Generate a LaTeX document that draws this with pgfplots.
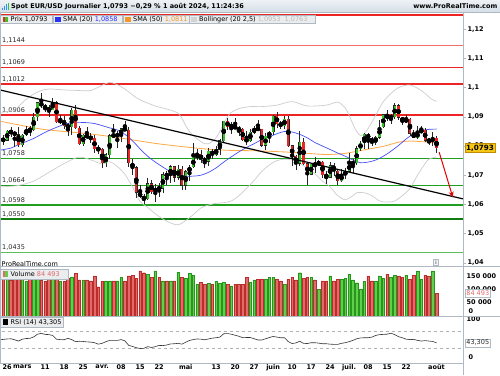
\documentclass[border=0pt]{standalone}
\usepackage{fontspec}
\setmainfont{DejaVu Sans}
\usepackage{pgfplots}
\pgfplotsset{compat=1.18}
\usepackage{pgfplotstable}
\usetikzlibrary{arrows.meta}

\definecolor{cgreen}{RGB}{56,192,40}
\definecolor{cred}{RGB}{232,38,38}
\definecolor{vgreen}{RGB}{96,208,74}
\definecolor{vred}{RGB}{228,106,106}
\definecolor{vgreend}{RGB}{40,150,30}
\definecolor{vredd}{RGB}{185,45,45}
\definecolor{sma20}{RGB}{70,80,250}
\definecolor{sma20t}{RGB}{40,50,245}
\definecolor{sma50}{RGB}{255,168,70}
\definecolor{sma50t}{RGB}{245,150,40}
\definecolor{boll}{RGB}{205,205,205}
\definecolor{resred}{RGB}{236,36,36}
\definecolor{respink}{RGB}{242,110,110}
\definecolor{supgreen}{RGB}{30,160,30}
\definecolor{supdark}{RGB}{15,125,15}
\definecolor{suplight}{RGB}{90,190,90}
\definecolor{hdrtop}{RGB}{238,242,246}
\definecolor{hdrbot}{RGB}{212,221,230}
\definecolor{legbg}{RGB}{234,236,238}
\definecolor{legline}{RGB}{175,185,195}
\definecolor{frame}{RGB}{175,185,195}
\definecolor{pricebox}{RGB}{246,198,20}
\definecolor{labtxt}{RGB}{40,40,40}

\newcommand\fs{\fontsize{6.5}{7.5}\selectfont}

% i  O  H  L  C  D(1=up, 0=down)  V(thousands)
\pgfplotstableread{
i O H L C D V
0 1.0823 1.0838 1.0804 1.0820 0 138
1 1.0820 1.0856 1.0817 1.0851 1 145
2 1.0851 1.0865 1.0830 1.0845 0 132
3 1.0845 1.0853 1.0797 1.0839 0 140
4 1.0839 1.0866 1.0796 1.0804 0 155
5 1.0804 1.0840 1.0797 1.0838 1 136
6 1.0838 1.0867 1.0833 1.0856 1 128
7 1.0856 1.0870 1.0833 1.0855 0 140
8 1.0855 1.0912 1.0851 1.0899 1 150
9 1.0899 1.0951 1.0885 1.0948 1 158
10 1.0948 1.0981 1.0930 1.0938 0 134
11 1.0938 1.0943 1.0916 1.0927 0 130
12 1.0927 1.0942 1.0900 1.0925 0 138
13 1.0925 1.0963 1.0924 1.0949 1 145
14 1.0949 1.0954 1.0880 1.0883 0 150
15 1.0883 1.0905 1.0874 1.0888 1 128
16 1.0888 1.0902 1.0860 1.0870 0 128
17 1.0870 1.0878 1.0836 1.0865 0 140
18 1.0865 1.0929 1.0838 1.0923 1 146
19 1.0923 1.0942 1.0857 1.0862 0 159
20 1.0862 1.0868 1.0802 1.0808 0 134
21 1.0808 1.0842 1.0800 1.0838 1 134
22 1.0838 1.0865 1.0824 1.0830 0 134
23 1.0830 1.0843 1.0811 1.0826 0 131
24 1.0826 1.0837 1.0777 1.0790 0 149
25 1.0790 1.0803 1.0774 1.0790 0 109
26 1.0790 1.0793 1.0724 1.0742 0 128
27 1.0742 1.0775 1.0728 1.0770 1 131
28 1.0770 1.0840 1.0755 1.0836 1 131
29 1.0836 1.0876 1.0829 1.0836 0 131
30 1.0836 1.0850 1.0792 1.0837 1 131
31 1.0837 1.0862 1.0814 1.0860 1 143
32 1.0860 1.0885 1.0850 1.0855 0 131
33 1.0855 1.0865 1.0728 1.0742 0 149
34 1.0742 1.0756 1.0700 1.0726 0 152
35 1.0726 1.0732 1.0622 1.0642 0 140
36 1.0642 1.0668 1.0623 1.0625 0 168
37 1.0625 1.0637 1.0601 1.0619 0 161
38 1.0619 1.0690 1.0617 1.0671 1 156
39 1.0671 1.0682 1.0637 1.0644 0 143
40 1.0644 1.0670 1.0609 1.0655 1 168
41 1.0655 1.0672 1.0624 1.0655 0 143
42 1.0655 1.0710 1.0640 1.0702 1 131
43 1.0702 1.0714 1.0666 1.0698 0 131
44 1.0698 1.0734 1.0675 1.0729 1 131
45 1.0729 1.0730 1.0677 1.0693 0 131
46 1.0693 1.0734 1.0684 1.0720 1 162
47 1.0720 1.0731 1.0650 1.0665 0 143
48 1.0665 1.0718 1.0650 1.0712 1 140
49 1.0712 1.0735 1.0680 1.0728 1 159
50 1.0728 1.0812 1.0725 1.0761 1 152
51 1.0761 1.0790 1.0751 1.0771 1 119
52 1.0771 1.0785 1.0741 1.0754 0 125
53 1.0754 1.0764 1.0725 1.0748 0 119
54 1.0748 1.0792 1.0730 1.0783 1 122
55 1.0783 1.0790 1.0757 1.0770 0 119
56 1.0770 1.0800 1.0765 1.0789 1 128
57 1.0789 1.0825 1.0768 1.0818 1 122
58 1.0818 1.0887 1.0810 1.0885 1 125
59 1.0885 1.0895 1.0856 1.0866 0 119
60 1.0866 1.0881 1.0841 1.0871 1 112
61 1.0871 1.0895 1.0857 1.0858 0 119
62 1.0858 1.0868 1.0836 1.0857 0 119
63 1.0857 1.0860 1.0817 1.0822 0 119
64 1.0822 1.0852 1.0805 1.0818 0 143
65 1.0818 1.0859 1.0813 1.0847 1 125
66 1.0847 1.0870 1.0840 1.0859 1 134
67 1.0859 1.0889 1.0851 1.0858 0 136
68 1.0858 1.0860 1.0797 1.0802 0 136
69 1.0802 1.0846 1.0788 1.0833 1 136
70 1.0833 1.0852 1.0812 1.0848 1 143
71 1.0848 1.0907 1.0838 1.0903 1 143
72 1.0903 1.0916 1.0863 1.0877 0 136
73 1.0877 1.0887 1.0860 1.0870 0 131
74 1.0870 1.0902 1.0860 1.0891 1 119
75 1.0891 1.0902 1.0797 1.0801 0 136
76 1.0801 1.0802 1.0733 1.0765 0 143
77 1.0765 1.0768 1.0718 1.0741 0 134
78 1.0741 1.0852 1.0733 1.0814 1 161
79 1.0814 1.0826 1.0735 1.0740 0 140
80 1.0740 1.0745 1.0668 1.0703 0 143
81 1.0703 1.0742 1.0700 1.0737 1 143
82 1.0737 1.0761 1.0708 1.0736 0 134
83 1.0736 1.0751 1.0730 1.0746 1 99
84 1.0746 1.0750 1.0690 1.0702 0 131
85 1.0702 1.0716 1.0671 1.0693 0 131
86 1.0693 1.0745 1.0690 1.0733 1 149
87 1.0733 1.0741 1.0697 1.0715 0 131
88 1.0715 1.0722 1.0666 1.0681 0 136
89 1.0681 1.0721 1.0677 1.0701 1 136
90 1.0701 1.0724 1.0688 1.0713 1 140
91 1.0713 1.0776 1.0710 1.0740 1 156
92 1.0740 1.0754 1.0709 1.0742 1 134
93 1.0742 1.0799 1.0734 1.0791 1 124
94 1.0791 1.0816 1.0783 1.0810 1 99
95 1.0810 1.0845 1.0791 1.0840 1 128
96 1.0840 1.0846 1.0791 1.0826 0 149
97 1.0826 1.0830 1.0799 1.0813 0 131
98 1.0813 1.0835 1.0805 1.0830 1 128
99 1.0830 1.0890 1.0825 1.0865 1 149
100 1.0865 1.0910 1.0862 1.0907 1 140
101 1.0907 1.0922 1.0885 1.0895 0 156
102 1.0895 1.0911 1.0875 1.0901 1 143
103 1.0901 1.0948 1.0893 1.0938 1 152
104 1.0938 1.0945 1.0890 1.0898 0 149
105 1.0898 1.0900 1.0873 1.0883 0 143
106 1.0883 1.0905 1.0880 1.0892 1 152
107 1.0892 1.0895 1.0833 1.0844 0 136
108 1.0844 1.0855 1.0826 1.0827 0 152
109 1.0827 1.0868 1.0825 1.0847 1 165
110 1.0847 1.0870 1.0843 1.0855 1 136
111 1.0855 1.0860 1.0813 1.0820 0 152
112 1.0820 1.0828 1.0803 1.0817 0 149
113 1.0817 1.0848 1.0800 1.0826 1 168
114 1.0826 1.0834 1.0777 1.0793 0 84.493
}\data

\begin{document}
\begin{tikzpicture}
\path[use as bounding box] (0pt,0pt) rectangle (500pt,-375pt);
\fill[white] (0pt,0pt) rectangle (500pt,-375pt);

%================ MAIN PRICE PANEL =================
\begin{axis}[
  at={(0pt,-265pt)}, anchor=south west, scale only axis,
  width=463pt, height=255pt,
  xmin=-0.87, xmax=120.97, ymin=1.039267, ymax=1.126566,
  axis line style={draw=none},
  xtick=\empty,
  ytick={1.04,1.05,1.06,1.07,1.08,1.09,1.10,1.11,1.12},
  yticklabels={{1,04},{1,05},{1,06},{1,07},{1,08},{1,09},{1,1},{1,11},{1,12}},
  ytick pos=right, yticklabel pos=right,
  tick align=outside, major tick length=3pt,
  major tick style={draw=frame, line width=0.5pt},
  yticklabel style={font=\fs\bfseries, inner sep=1.5pt},
]
% level lines
\draw[color=resred, line width=1.4pt] (axis cs:-2,1.1248) -- (axis cs:122,1.1248);
\draw[color=respink, line width=1.8pt] (axis cs:-2,1.1144) -- (axis cs:122,1.1144);
\draw[color=resred, line width=1.4pt] (axis cs:-2,1.1069) -- (axis cs:122,1.1069);
\draw[color=resred, line width=1.4pt] (axis cs:-2,1.1012) -- (axis cs:122,1.1012);
\draw[color=resred, line width=1.4pt] (axis cs:-2,1.0906) -- (axis cs:122,1.0906);
\draw[color=supgreen, line width=1.4pt] (axis cs:-2,1.0758) -- (axis cs:122,1.0758);
\draw[color=supgreen, line width=1.4pt] (axis cs:-2,1.0664) -- (axis cs:122,1.0664);
\draw[color=supgreen, line width=1.4pt] (axis cs:-2,1.0598) -- (axis cs:122,1.0598);
\draw[color=supdark, line width=2pt] (axis cs:-2,1.0550) -- (axis cs:122,1.0550);
\draw[color=suplight, line width=1.4pt] (axis cs:-2,1.0435) -- (axis cs:122,1.0435);
\node[anchor=south west, font=\fs, text=labtxt, inner sep=0.5pt, xshift=1.5pt, yshift=1.4pt] at (axis cs:-0.87,1.1144) {1,1144};
\node[anchor=south west, font=\fs, text=labtxt, inner sep=0.5pt, xshift=1.5pt, yshift=1.4pt] at (axis cs:-0.87,1.1069) {1,1069};
\node[anchor=south west, font=\fs, text=labtxt, inner sep=0.5pt, xshift=1.5pt, yshift=1.4pt] at (axis cs:-0.87,1.1012) {1,1012};
\node[anchor=south west, font=\fs, text=labtxt, inner sep=0.5pt, xshift=1.5pt, yshift=1.4pt] at (axis cs:-0.87,1.0906) {1,0906};
\node[anchor=south west, font=\fs, text=labtxt, inner sep=0.5pt, xshift=1.5pt, yshift=1.4pt] at (axis cs:-0.87,1.0758) {1,0758};
\node[anchor=south west, font=\fs, text=labtxt, inner sep=0.5pt, xshift=1.5pt, yshift=1.4pt] at (axis cs:-0.87,1.0664) {1,0664};
\node[anchor=south west, font=\fs, text=labtxt, inner sep=0.5pt, xshift=1.5pt, yshift=1.4pt] at (axis cs:-0.87,1.0598) {1,0598};
\node[anchor=south west, font=\fs, text=labtxt, inner sep=0.5pt, xshift=1.5pt, yshift=1.4pt] at (axis cs:-0.87,1.0550) {1,0550};
\node[anchor=south west, font=\fs, text=labtxt, inner sep=0.5pt, xshift=1.5pt, yshift=1.4pt] at (axis cs:-0.87,1.0435) {1,0435};
% Bollinger upper
\addplot[draw=boll, line width=0.7pt, smooth] coordinates {
(-0.87,1.0915)(3,1.0925)(6,1.0960)(9,1.0985)(12,1.0995)(16,1.0992)(20,1.0990)(23,1.0990)(26,1.1008)(28,1.1018)(30,1.1010)(32,1.0995)(34,1.0975)(36,1.0958)(40,1.0937)(44,1.0923)(46,1.0912)(47,1.0895)(48,1.0870)(49,1.0850)(50,1.0835)(51,1.0825)(52,1.0815)(53,1.0808)(54,1.0808)(55,1.0815)(56,1.0828)(57,1.0850)(58,1.0878)(59,1.0900)(60,1.0915)(62,1.0928)(65,1.0935)(68,1.0935)(72,1.0940)(76,1.0952)(80,1.0937)(85,1.0940)(88,1.0950)(90,1.0930)(91,1.0905)(92,1.0875)(93,1.0850)(94,1.0836)(95,1.0842)(96,1.0860)(97,1.0882)(98,1.0905)(99,1.0930)(100,1.0952)(102,1.0980)(104,1.1000)(107,1.1009)(110,1.0990)(112,1.0968)(113,1.0958)(114,1.0953)};
% Bollinger lower
\addplot[draw=boll, line width=0.7pt, smooth] coordinates {
(-0.87,1.0660)(4,1.0665)(8,1.0680)(12,1.0710)(16,1.0740)(20,1.0762)(24,1.0748)(26,1.0738)(28,1.0746)(30,1.0730)(32,1.0703)(34,1.0660)(36,1.0610)(38,1.0590)(40,1.0568)(42,1.0550)(44,1.0537)(46,1.0530)(48,1.0545)(50,1.0565)(52,1.0588)(54,1.0598)(56,1.0604)(58,1.0606)(60,1.0612)(62,1.0630)(64,1.0655)(66,1.0682)(68,1.0713)(70,1.0735)(72,1.0750)(74,1.0755)(76,1.0752)(78,1.0740)(80,1.0725)(82,1.0705)(84,1.0680)(86,1.0660)(88,1.0630)(90,1.0616)(92,1.0630)(93,1.0640)(95,1.0640)(97,1.0630)(99,1.0612)(101,1.0608)(103,1.0612)(105,1.0630)(107,1.0655)(109,1.0700)(111,1.0740)(112,1.0755)(114,1.0763)};
% SMA 50
\addplot[draw=sma50, line width=0.8pt, smooth] coordinates {
(-0.87,1.0885)(5,1.0870)(10,1.0858)(15,1.0851)(20,1.0845)(25,1.0838)(30,1.0829)(35,1.0819)(40,1.0809)(45,1.0801)(50,1.0794)(55,1.0788)(60,1.0785)(65,1.0784)(70,1.0782)(75,1.0779)(80,1.0775)(85,1.0771)(90,1.0775)(95,1.0787)(100,1.0799)(104,1.0813)(107,1.0817)(110,1.0815)(114,1.0811)};
% SMA 20
\addplot[draw=sma20, line width=0.7pt, smooth] coordinates {
(-0.87,1.0786)(2,1.0793)(4,1.0805)(6,1.0815)(8,1.0826)(10,1.0840)(12,1.0853)(14,1.0864)(16,1.0874)(18,1.0880)(20,1.0881)(22,1.0880)(24,1.0877)(26,1.0870)(28,1.0862)(30,1.0855)(32,1.0840)(34,1.0818)(36,1.0790)(38,1.0765)(40,1.0745)(42,1.0728)(44,1.0712)(46,1.0702)(48,1.0697)(50,1.0697)(52,1.0700)(54,1.0710)(56,1.0725)(58,1.0745)(60,1.0763)(62,1.0780)(64,1.0795)(66,1.0808)(68,1.0822)(70,1.0832)(72,1.0842)(74,1.0850)(76,1.0848)(78,1.0840)(80,1.0828)(82,1.0812)(84,1.0800)(86,1.0788)(88,1.0776)(90,1.0765)(92,1.0752)(94,1.0743)(96,1.0745)(98,1.0752)(100,1.0765)(102,1.0782)(104,1.0802)(106,1.0824)(108,1.0842)(110,1.0852)(112,1.0857)(114,1.0858)};
% candles: wicks
\addplot[only marks, mark=none, error bars/.cd, y dir=both, y explicit, error mark=none,
  error bar style={line width=0.6pt, black!85}]
  table[x=i, y expr={(\thisrow{H}+\thisrow{L})/2}, y error expr={(\thisrow{H}-\thisrow{L})/2}] {\data};
% bodies outline
\addplot[only marks, mark=none, error bars/.cd, y dir=both, y explicit, error mark=none,
  error bar style={line width=3pt, black!85}]
  table[x=i, y expr={(\thisrow{O}+\thisrow{C})/2}, y error expr={abs(\thisrow{C}-\thisrow{O})/2+0.00011}] {\data};
% green bodies (zero length for down candles)
\addplot[only marks, mark=none, error bars/.cd, y dir=both, y explicit, error mark=none,
  error bar style={line width=2.3pt, cgreen}]
  table[x=i, y expr={(\thisrow{O}+\thisrow{C})/2}, y error expr={\thisrow{D}*abs(\thisrow{C}-\thisrow{O})/2}] {\data};
% red bodies (zero length for up candles)
\addplot[only marks, mark=none, error bars/.cd, y dir=both, y explicit, error mark=none,
  error bar style={line width=2.3pt, cred}]
  table[x=i, y expr={(\thisrow{O}+\thisrow{C})/2}, y error expr={(1-\thisrow{D})*abs(\thisrow{C}-\thisrow{O})/2}] {\data};
% trend line
\addplot[draw=black, line width=1.2pt] coordinates {(-0.87,1.0992)(120.97,1.0619)};
% arrow
\addplot[draw=red!90!black, line width=1pt, -{Stealth[length=6pt,width=5pt]}] coordinates {(114.7,1.0779)(118.3,1.0624)};
\end{axis}

%================ VOLUME PANEL =================
\begin{axis}[
  at={(0pt,-316pt)}, anchor=south west, scale only axis,
  width=463pt, height=49.5pt,
  xmin=-0.87, xmax=120.97, ymin=0, ymax=184.2,
  axis line style={draw=none},
  xtick=\empty,
  ytick={50,100,150}, yticklabels={50 000,100 000,150 000},
  ytick pos=right, yticklabel pos=right, major tick length=0pt,
  yticklabel style={font=\fs\bfseries, inner sep=1.5pt, xshift=2pt},
]
\addplot[ybar, bar width=2.7pt, bar shift=0pt, fill=vgreen, draw=vgreend, line width=0.35pt] table[x=i, y expr={\thisrow{V}*\thisrow{D}}] {\data};
\addplot[ybar, bar width=2.7pt, bar shift=0pt, fill=vred, draw=vredd, line width=0.35pt] table[x=i, y expr={\thisrow{V}*(1-\thisrow{D})}] {\data};
\end{axis}

%================ RSI PANEL =================
\begin{axis}[
  at={(0pt,-363pt)}, anchor=south west, scale only axis,
  width=463pt, height=47pt,
  xmin=-0.87, xmax=120.97, ymin=-5.42, ymax=107.83,
  axis line style={draw=none},
  ytick={100}, yticklabels={100},
  ytick pos=right, yticklabel pos=right, major tick length=0pt,
  yticklabel style={font=\fs\bfseries, inner sep=1.5pt, xshift=2pt},
  xtick={1,5,11,16,21,26,31,36,41,48,56,61,66,71,76,81,86,91,96,101,106,114},
  xticklabels={26,mars,11,18,25,avr.,08,15,22,mai,13,20,27,juin,10,17,24,juil.,08,15,22,août},
  xtick pos=bottom, xticklabel pos=bottom,
  xticklabel style={font=\fs\bfseries, inner sep=1pt, yshift=-0.5pt},
]
\addplot[draw=gray!60, dashed, line width=0.5pt] coordinates {(-2,70)(122,70)};
\addplot[draw=gray!60, dashed, line width=0.5pt] coordinates {(-2,30)(122,30)};
\addplot[draw=black!80, line width=0.6pt] coordinates {
(-0.87,50.5)(0,51.5)(1,52.5)(2,53)(3,50.5)(4,47.5)(5,52)(6,53.5)(7,54)(8,57.5)(9,64)(10,66)(11,63.5)(12,63)(13,61)(14,52)(15,51)(16,50.5)(17,54)(18,51)(19,46)(20,47)(21,46.5)(22,45.5)(23,45)(24,43.5)(25,40)(26,42)(27,46)(28,49)(29,49)(30,49)(31,51)(32,48)(33,37)(34,34.5)(35,31.5)(36,29.5)(37,30)(38,34)(39,32)(40,34)(41,37)(42,36.5)(43,38)(44,40.5)(45,41)(46,42)(47,40)(48,44.5)(49,49)(50,51)(51,52.5)(52,52)(53,50.5)(54,52.5)(55,54.5)(56,55.5)(57,57)(58,65)(59,65.5)(60,64)(61,61.5)(62,59)(63,55.5)(64,56)(65,56)(66,53)(67,50)(68,50)(69,53)(70,56)(71,58.5)(72,57)(73,55.5)(74,55.5)(75,46)(76,41.5)(77,43)(78,47)(79,42)(80,41.5)(81,43.5)(82,43.5)(83,42.5)(84,41)(85,41)(86,40)(87,39.5)(88,39.5)(89,42)(90,43.5)(91,46)(92,49)(93,53)(94,55)(95,55.5)(96,55.5)(97,57)(98,61)(99,63)(100,63.5)(101,64)(102,66.5)(103,63)(104,58)(105,55.5)(106,52)(107,51)(108,51.5)(109,49)(110,47.5)(111,48.5)(112,47.5)(113,46.5)(114,43.3)};
\end{axis}

%================ FRAMES & OVERLAYS =================
\begin{scope}[x=1pt,y=1pt]
\draw[frame, line width=0.5pt] (0.3,-13) -- (0.3,-363);
\draw[frame, line width=0.5pt] (463,-13) -- (463,-375);
\draw[frame, line width=0.5pt] (0,-266.5) -- (500,-266.5);
\draw[frame, line width=0.5pt] (0,-316.3) -- (500,-316.3);
\draw[frame, line width=0.5pt] (0,-363) -- (463,-363);

% header
\shade[top color=hdrtop, bottom color=hdrbot] (0,0) rectangle (500,-12.5);
\draw[frame, line width=0.4pt] (0,-12.5) -- (500,-12.5);
\fill[sma20!60!cyan] (2.2,-9.5) rectangle (3.2,-7.5);
\fill[sma20!60!cyan] (4.0,-9.5) rectangle (5.0,-5.5);
\fill[sma20!60!cyan] (5.8,-9.5) rectangle (6.8,-3.8);
\fill[cgreen] (7.6,-9.5) rectangle (8.6,-2.5);
\node[anchor=west, font=\fs\bfseries, inner sep=0] at (11,-6.3) {Spot EUR/USD Journalier 1,0793 −0,29 \% 1 août 2024, 11:24:36};
\node[anchor=east, font=\fs\bfseries, inner sep=0] at (497.5,-6.3) {www.ProRealTime.com};

% legend boxes
\filldraw[fill=legbg, draw=legline, line width=0.4pt] (0.2,-15) rectangle (52,-23.5);
\fill[cred] (2.5,-16.6) rectangle (5,-21.9); \fill[cgreen] (5,-16.6) rectangle (7.5,-21.9);
\node[anchor=west, font=\fs, inner sep=0] at (10.5,-19.3) {Prix 1,0793};
\filldraw[fill=legbg, draw=legline, line width=0.4pt] (53,-15) rectangle (122,-23.5);
\fill[sma20t] (55.3,-16.6) rectangle (60.6,-21.9);
\node[anchor=west, font=\fs, inner sep=0] at (63,-19.3) {SMA (20) \textcolor{sma20t}{1,0858}};
\filldraw[fill=legbg, draw=legline, line width=0.4pt] (123,-15) rectangle (189,-23.5);
\fill[sma50t] (125.3,-16.6) rectangle (130.6,-21.9);
\node[anchor=west, font=\fs, inner sep=0] at (133,-19.3) {SMA (50) \textcolor{sma50t}{1,0811}};
\filldraw[fill=legbg, draw=legline, line width=0.4pt] (189,-15) rectangle (315,-23.5);
\fill[gray!35] (191.3,-16.6) rectangle (196.6,-21.9);
\node[anchor=west, font=\fs, inner sep=0] at (199,-19.3) {Bollinger (20 2,5) \textcolor{gray!55}{1,0953~~1,0763}};

% price box
\node[fill=pricebox, draw={rgb,255:red,190;green,140;blue,0}, line width=0.4pt, anchor=west,
  font=\fontsize{7.2}{8}\selectfont\bfseries, inner xsep=1.3pt, inner ysep=1.3pt] at (464.6,-148.1) {1,0793};

% volume panel labels
\node[anchor=west, font=\fs, inner sep=0] at (1.5,-264.2) {ProRealTime.com};
\node[draw=legline, fill=gray!8, font=\fontsize{5}{5}\selectfont, inner sep=0.6pt, minimum width=5pt, minimum height=5.5pt] at (436,-262.3) {i};
\filldraw[fill=legbg, draw=legline, line width=0.4pt] (0.2,-269.5) rectangle (68,-279);
\fill[vred] (2.5,-271.4) rectangle (5,-277); \fill[vgreen] (5,-271.4) rectangle (7.5,-277);
\node[anchor=west, font=\fs, inner sep=0] at (10.5,-274.3) {Volume \textcolor{vred}{84 493}};
\node[fill=white, draw=legline, line width=0.4pt, anchor=west, text=vred, font=\fs, inner sep=1.2pt] at (465,-293.3) {84 493};
\node[anchor=west, font=\fs\bfseries, inner sep=0] at (468.5,-311) {0};

% RSI panel labels
\filldraw[fill=legbg, draw=legline, line width=0.4pt] (0.2,-317.3) rectangle (63,-326.8);
\fill[black] (2.8,-319.3) rectangle (7.6,-324.8);
\node[anchor=west, font=\fs, inner sep=0] at (10.5,-322.1) {RSI (14) 43,305};
\node[fill=white, draw=legline, line width=0.4pt, anchor=west, text=labtxt, font=\fs, inner sep=1.2pt] at (465,-342.8) {43,305};
\node[anchor=west, font=\fs\bfseries, inner sep=0] at (468.5,-356.7) {0};
\end{scope}
\end{tikzpicture}
\end{document}
